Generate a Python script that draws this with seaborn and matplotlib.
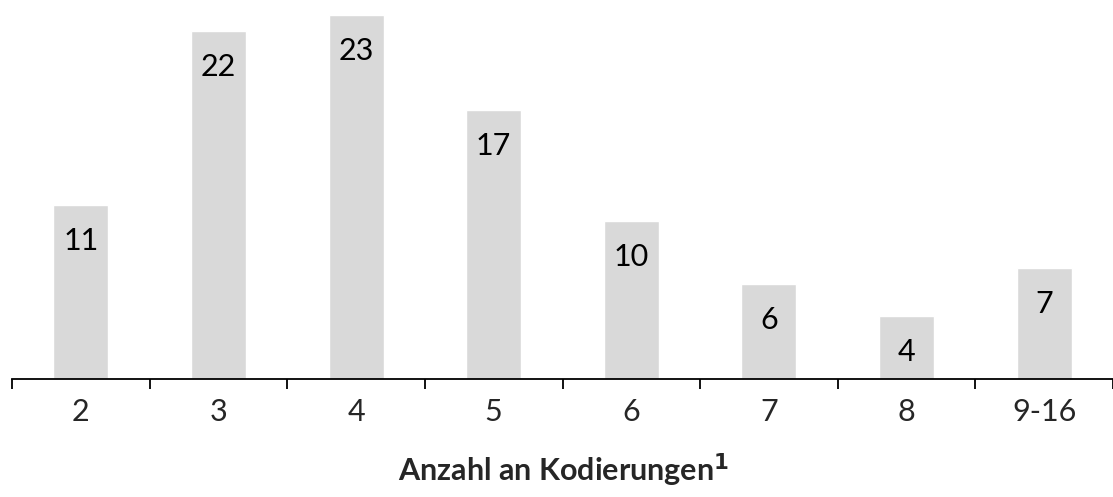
import matplotlib
matplotlib.use('Agg')
import matplotlib.pyplot as plt
import seaborn as sns
import numpy as np
import pandas as pd

categories = ['2', '3', '4', '5', '6', '7', '8', '9-16']
counts = [11, 22, 23, 17, 10, 6, 4, 7]

sns.set_style('white')
plt.rcParams['font.family'] = ['Lato', 'DejaVu Sans']

df = pd.DataFrame({'kodierungen': categories, 'anzahl': counts})

fig = plt.figure(figsize=(11.13, 4.97), dpi=100)
ax = fig.add_axes([12 / 1113, 1 - 379 / 497, 1 - 12 / 1113, 364 / 497])

sns.barplot(data=df, x='kodierungen', y='anzahl', color='#d9d9d9',
            width=0.4, saturation=1, ax=ax)

for i, v in enumerate(counts):
    ax.annotate(str(v), (i, v), xytext=(0, -26), textcoords='offset points',
                ha='center', va='center', fontsize=22, color='black')

ax.set_xlim(-0.5, 7.48)
ax.set_ylim(0, 23)
ax.set_yticks([])
ax.set_ylabel('')
ax.set_xlabel('')

ax.set_xticks(np.arange(-0.5, 8, 1), minor=True)
ax.tick_params(axis='x', which='minor', length=7, width=1.3, color='black', direction='out')
ax.tick_params(axis='x', which='major', length=0, labelsize=22, pad=14)
ax.xaxis.set_ticks_position('bottom')

# achsentitel mit hochgestellter fussnote
fig.text(0.506, 1 - 470 / 497, 'Anzahl an Kodierungen$^{\\mathbf{1}}$', ha='center', va='center',
         fontsize=22, fontweight='bold')

for s in ['top', 'right', 'left']:
    ax.spines[s].set_visible(False)
ax.spines['bottom'].set_color('black')
ax.spines['bottom'].set_linewidth(1.3)

fig.savefig('out.png', dpi=100)
